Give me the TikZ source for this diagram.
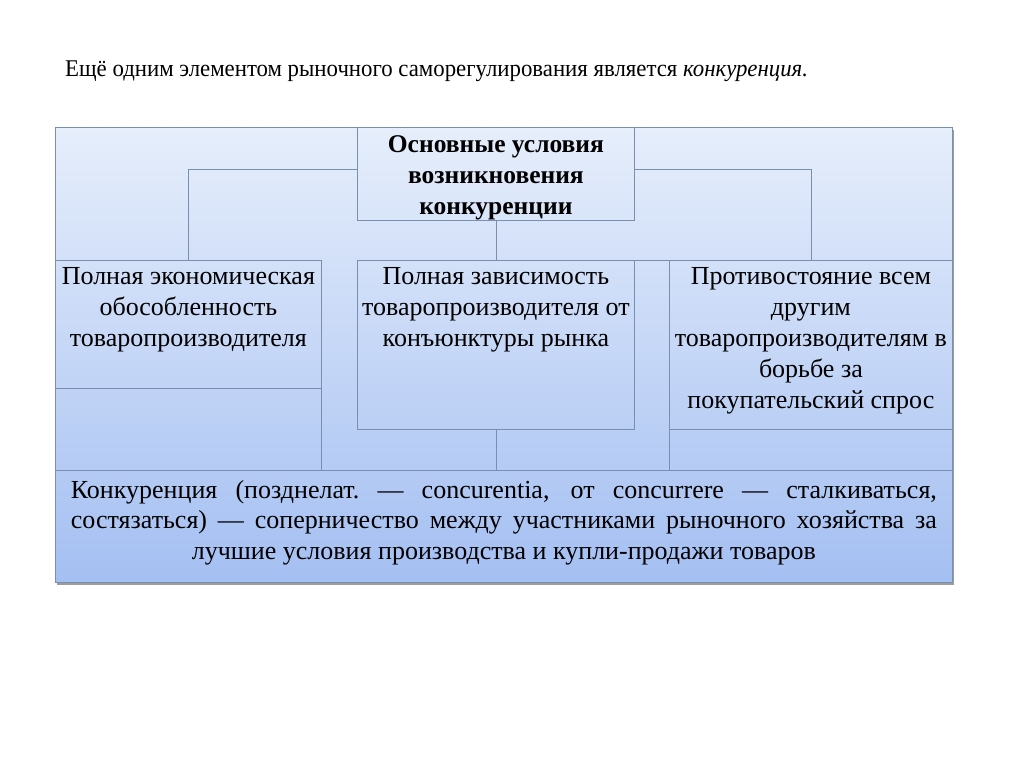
\documentclass[tikz,border=0pt]{standalone}
\usepackage{fontspec}
\setmainfont{Liberation Serif}
\usepackage{xcolor}
\usetikzlibrary{shadows}
\definecolor{trait}{HTML}{7A8FB0}
\definecolor{haut}{HTML}{E6EEFB}
\definecolor{bas}{HTML}{A4BFF2}
\begin{document}
\begin{tikzpicture}[x=1pt,y=-1pt]
% Styles
\tikzstyle{cadre}=[draw=trait,line width=0.9pt,top color=haut,bottom color=bas,anchor=north west,inner sep=0pt,drop shadow={shadow xshift=2pt,shadow yshift=-3pt,fill=black!70,opacity=0.55}]
\tikzstyle{boite}=[draw=trait,line width=0.8pt,anchor=north west,inner sep=0pt]
\tikzstyle{liaison}=[draw=trait,line width=0.8pt]
% Polices
\def\TexteBoite{\fontsize{26}{31}\selectfont\rule{0pt}{24.5pt}}
\def\TexteTete{\fontsize{25.5}{31}\selectfont\bfseries\rule{0pt}{25pt}}
\def\TexteDef{\fontsize{26}{30.5}\selectfont\rule{0pt}{28pt}}
\useasboundingbox (0,0) rectangle (1024,768);
% Titre
\node[anchor=base west,inner sep=0pt,font=\fontsize{24}{28}\selectfont,xscale=0.95] (titre) at (65,76) {Ещё одним элементом рыночного саморегулирования является \textit{конкуренция.}};
% Cadre
\node[cadre,minimum width=897pt,minimum height=455pt] (cadre) at (55,127) {};
% Boites
\node[boite] (tete) at (357,127) {\parbox[c][93pt][t]{277pt}{\centering\TexteTete Основные условия\\возникновения\\конкуренции}};
\node[boite] (gauche) at (55,260) {\parbox[c][128pt][t]{266pt}{\centering\TexteBoite Полная экономическая\\обособленность\\товаропроизводителя}};
\node[boite] (milieu) at (357,260) {\parbox[c][169pt][t]{277pt}{\centering\TexteBoite Полная зависимость\\товаропроизводителя от\\конъюнктуры рынка}};
\node[boite] (droite) at (669,260) {\parbox[c][169pt][t]{283pt}{\centering\TexteBoite Противостояние всем\\другим\\товаропроизводителям в\\борьбе за\\покупательский спрос}};
\node[boite] (definition) at (55,470) {\parbox[c][112pt][t]{897pt}{\centering\TexteDef\makebox[866pt][s]{Конкуренция (позднелат.\ — concurentia, от concurrere — сталкиваться,}\\\makebox[866pt][s]{состязаться) — соперничество между участниками рыночного хозяйства за}\\лучшие условия производства и купли-продажи товаров}};
% Liaisons
\draw[liaison] ([yshift=5pt]tete.west) -| (gauche.north);
\draw[liaison] ([yshift=5pt]tete.east) -| (droite.north);
\draw[liaison] (tete.south) -- (milieu.north);
\draw[liaison] (milieu.north east) -- (droite.north west);
\draw[liaison] (gauche.south east) -- (gauche.south east |- definition.north);
\draw[liaison] (milieu.south) -- (milieu.south |- definition.north);
\draw[liaison] (droite.south west) -- (droite.south west |- definition.north);
\end{tikzpicture}
\end{document}
